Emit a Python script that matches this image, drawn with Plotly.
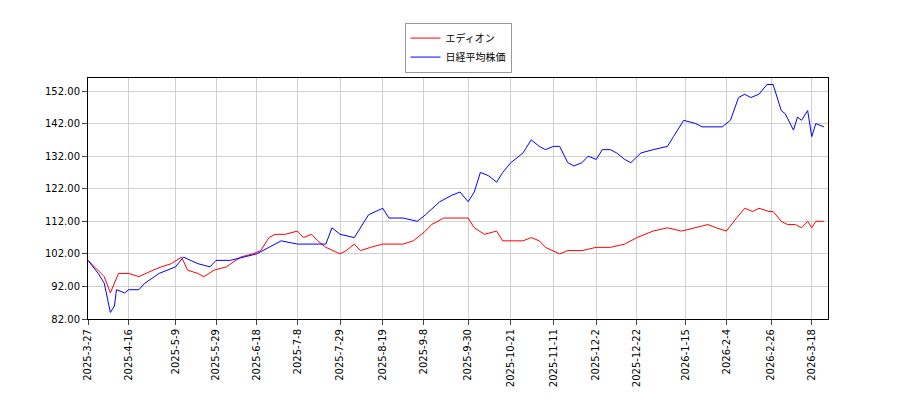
import plotly.graph_objects as go
import pandas as pd

ed_dates = ["2025-03-27","2025-04-01","2025-04-04","2025-04-07","2025-04-09","2025-04-11","2025-04-16","2025-04-21","2025-04-28","2025-05-02","2025-05-07","2025-05-12","2025-05-15","2025-05-20","2025-05-23","2025-05-28","2025-06-03","2025-06-10","2025-06-16","2025-06-20","2025-06-24","2025-06-27","2025-07-02","2025-07-08","2025-07-11","2025-07-15","2025-07-18","2025-07-22","2025-07-29","2025-08-01","2025-08-05","2025-08-08","2025-08-13","2025-08-19","2025-08-25","2025-08-29","2025-09-03","2025-09-09","2025-09-12","2025-09-18","2025-09-24","2025-09-30","2025-10-03","2025-10-08","2025-10-14","2025-10-17","2025-10-22","2025-10-27","2025-10-31","2025-11-04","2025-11-07","2025-11-11","2025-11-14","2025-11-18","2025-11-25","2025-12-02","2025-12-09","2025-12-16","2025-12-22","2025-12-30","2026-01-06","2026-01-13","2026-01-20","2026-01-26","2026-01-30","2026-02-04","2026-02-09","2026-02-13","2026-02-17","2026-02-20","2026-02-25","2026-02-27","2026-03-03","2026-03-06","2026-03-10","2026-03-13","2026-03-16","2026-03-18","2026-03-20","2026-03-24"]
ed_vals = [100,97,95,90,93,96,96,95,97,98,99,101,97,96,95,97,98,101,102,103,107,108,108,109,107,108,106,104,102,103,105,103,104,105,105,105,106,109,111,113,113,113,110,108,109,106,106,106,107,106,104,103,102,103,103,104,104,105,107,109,110,109,110,111,110,109,113,116,115,116,115,115,112,111,111,110,112,110,112,112]

nk_dates = ["2025-03-27","2025-04-01","2025-04-04","2025-04-07","2025-04-09","2025-04-10","2025-04-14","2025-04-16","2025-04-21","2025-04-24","2025-05-01","2025-05-09","2025-05-13","2025-05-20","2025-05-26","2025-05-29","2025-06-05","2025-06-12","2025-06-18","2025-06-24","2025-06-30","2025-07-08","2025-07-15","2025-07-22","2025-07-25","2025-07-29","2025-08-05","2025-08-12","2025-08-19","2025-08-22","2025-08-29","2025-09-05","2025-09-09","2025-09-16","2025-09-22","2025-09-26","2025-09-30","2025-10-03","2025-10-06","2025-10-10","2025-10-14","2025-10-17","2025-10-21","2025-10-27","2025-10-31","2025-11-04","2025-11-07","2025-11-11","2025-11-14","2025-11-18","2025-11-21","2025-11-25","2025-11-28","2025-12-02","2025-12-05","2025-12-09","2025-12-12","2025-12-16","2025-12-19","2025-12-24","2025-12-30","2026-01-06","2026-01-09","2026-01-14","2026-01-20","2026-01-23","2026-01-27","2026-02-02","2026-02-06","2026-02-10","2026-02-13","2026-02-16","2026-02-20","2026-02-24","2026-02-27","2026-03-03","2026-03-05","2026-03-09","2026-03-11","2026-03-13","2026-03-16","2026-03-18","2026-03-20","2026-03-24"]
nk_vals = [100,96,93,84,86,91,90,91,91,93,96,98,101,99,98,100,100,101,102,104,106,105,105,105,110,108,107,114,116,113,113,112,114,118,120,121,118,121,127,126,124,127,130,133,137,135,134,135,135,130,129,130,132,131,134,134,133,131,130,133,134,135,138,143,142,141,141,141,143,150,151,150,151,154,154,146,145,140,144,143,146,138,142,141]

ticks = ["2025-3-27","2025-4-16","2025-5-9","2025-5-29","2025-6-18","2025-7-8","2025-7-29","2025-8-19","2025-9-8","2025-9-30","2025-10-21","2025-11-11","2025-12-2","2025-12-22","2026-1-15","2026-2-4","2026-2-26","2026-3-18"]
yticks = [82,92,102,112,122,132,142,152]

fig = go.Figure()
fig.add_trace(go.Scatter(x=pd.to_datetime(ed_dates), y=ed_vals, mode="lines", name="エディオン", line=dict(color="red", width=1)))
fig.add_trace(go.Scatter(x=pd.to_datetime(nk_dates), y=nk_vals, mode="lines", name="日経平均株価", line=dict(color="blue", width=1)))
ax = dict(showline=True, linecolor="black", mirror=True, gridcolor="#d0d0d0", ticks="outside", zeroline=False, automargin=False)
fig.update_layout(
    width=900, height=400, plot_bgcolor="white", paper_bgcolor="white",
    margin=dict(l=80, r=80, t=70, b=89, autoexpand=False),
    font=dict(family="DejaVu Sans, Noto Sans CJK JP", size=10, color="black"),
    legend=dict(x=0.5, xanchor="center", y=1.23, yanchor="top", bordercolor="#999", borderwidth=1, bgcolor="white"),
    xaxis=dict(**ax, range=["2025-03-27","2026-03-26"], tickvals=pd.to_datetime(ticks), ticktext=ticks, tickangle=-90),
    yaxis=dict(**ax, range=[82,156], tickvals=yticks, ticktext=[f"{v:.2f}" for v in yticks]),
)
fig.write_html("out.html")
